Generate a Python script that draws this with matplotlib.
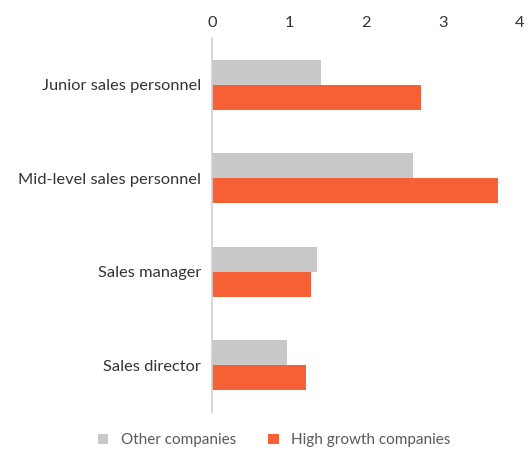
import numpy as np
import matplotlib.pyplot as plt

plt.rcParams['font.family'] = ['Lato', 'DejaVu Sans']

categories = ['Junior sales personnel', 'Mid-level sales personnel',
              'Sales manager', 'Sales director']
other = [1.42, 2.61, 1.37, 0.98]
high_growth = [2.72, 3.71, 1.28, 1.22]
ticks = [0, 1, 2, 3, 4]

gray = '#C8C8C8'
orange = '#F56135'

fig = plt.figure(figsize=(5.29, 4.61), dpi=100)
ax = fig.add_axes([212 / 529, 1 - 412 / 461, 308 / 529, 374 / 461])

y = np.arange(len(categories))
h = 0.265
ax.barh(y - h / 2, other, height=h, color=gray, label='Other companies')
ax.barh(y + h / 2, high_growth, height=h, color=orange, label='High growth companies')

ax.set_xlim(0, 4)
ax.set_ylim(len(categories) - 0.5, -0.5)
ax.set_xticks(ticks)
ax.xaxis.tick_top()
ax.tick_params(axis='x', length=0, labelsize=11.8, labelcolor='#333333', pad=6)
ax.set_yticks(y)
ax.set_yticklabels(categories)
ax.tick_params(axis='y', length=0, labelsize=11.8, labelcolor='#333333', pad=8)

for s in ['top', 'right', 'bottom']:
    ax.spines[s].set_visible(False)
ax.spines['left'].set_color('#D0D0D0')
ax.spines['left'].set_linewidth(1.2)

fig.legend(loc='lower center', bbox_to_anchor=(0.518, 0.0), ncol=2, frameon=False,
           fontsize=11, labelcolor='#595959', handlelength=0.7, handleheight=0.7,
           columnspacing=2.1, handletextpad=0.8)

fig.savefig('out.png', dpi=100)
